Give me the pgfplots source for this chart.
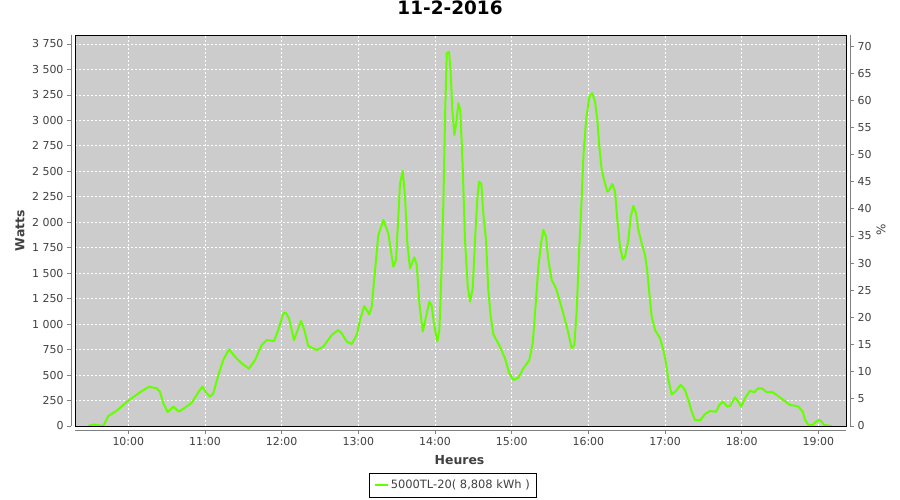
\documentclass[border=0pt]{standalone}
\usepackage{fontspec}
\setmainfont{DejaVu Sans}
\usepackage{pgfplots}
\pgfplotsset{compat=1.18}

\definecolor{plotbg}{RGB}{204,204,204}
\definecolor{serie}{RGB}{102,255,0}
\definecolor{axgray}{RGB}{128,128,128}
\definecolor{txt}{RGB}{64,64,64}

% Production du 11-2-2016, heures en decimal
\pgfplotstableread{
h      w
9.478  0
9.543  15
9.674  0
9.739  98
9.849  150
10.000 248
10.153 331
10.270 386
10.370 370
10.413 337
10.457 223
10.514 137
10.587 190
10.661 141
10.740 180
10.827 229
10.905 321
10.965 386
11.023 321
11.066 288
11.109 321
11.174 500
11.239 648
11.313 753
11.392 680
11.479 615
11.574 563
11.653 648
11.740 795
11.805 844
11.900 834
11.956 942
12.022 1106
12.053 1112
12.096 1057
12.161 844
12.217 959
12.253 1031
12.296 942
12.348 785
12.457 746
12.543 778
12.653 893
12.739 942
12.783 910
12.849 828
12.914 805
12.979 893
13.022 1040
13.078 1178
13.143 1096
13.175 1171
13.218 1531
13.261 1875
13.326 2022
13.391 1891
13.456 1564
13.492 1630
13.544 2382
13.579 2505
13.609 2251
13.639 1793
13.674 1548
13.730 1656
13.762 1581
13.796 1204
13.840 926
13.883 1073
13.926 1220
13.957 1180
13.987 1000
14.030 828
14.057 942
14.083 1482
14.109 2186
14.131 3036
14.153 3659
14.183 3674
14.205 3462
14.226 3102
14.252 2856
14.274 2955
14.304 3168
14.330 3102
14.361 2546
14.391 1826
14.427 1368
14.457 1220
14.492 1352
14.522 1826
14.552 2235
14.574 2398
14.604 2376
14.630 2088
14.665 1826
14.695 1335
14.727 1073
14.761 900
14.848 778
14.913 664
14.969 517
15.022 452
15.087 474
15.152 566
15.230 648
15.274 811
15.304 1106
15.348 1564
15.383 1793
15.413 1924
15.448 1858
15.478 1630
15.522 1433
15.578 1352
15.630 1220
15.696 1040
15.739 910
15.783 763
15.817 795
15.848 1139
15.878 1695
15.904 2088
15.935 2644
15.970 3004
16.013 3233
16.052 3266
16.087 3184
16.117 3004
16.143 2742
16.174 2513
16.205 2415
16.248 2300
16.274 2317
16.313 2376
16.348 2300
16.378 2022
16.413 1760
16.448 1636
16.478 1662
16.522 1826
16.552 2055
16.587 2160
16.622 2088
16.652 1924
16.696 1793
16.739 1679
16.769 1515
16.795 1302
16.826 1073
16.870 942
16.935 861
16.978 746
17.013 615
17.043 452
17.087 311
17.144 344
17.205 405
17.261 353
17.304 255
17.348 140
17.391 59
17.456 55
17.522 118
17.587 147
17.665 140
17.708 206
17.753 239
17.813 190
17.848 199
17.913 282
17.956 239
17.991 190
18.043 272
18.108 347
18.161 331
18.217 370
18.261 370
18.327 331
18.392 337
18.457 304
18.543 255
18.630 206
18.696 199
18.739 190
18.796 140
18.826 59
18.869 10
18.926 10
18.969 42
19.013 59
19.044 42
19.074 10
19.174 0
}\production

\pgfplotsset{
  commun/.style={
    scale only axis, width=771bp, height=391bp,
    xmin=9.305, xmax=19.36,
    /pgf/number format/assume math mode=true,
    tick label style={font=\fontsize{11}{13}\selectfont, text=txt},
    label style={font=\bfseries\fontsize{12.5}{15}\selectfont, text=txt},
  },
  reglette/.style={
    tick align=outside, major tick length=4bp,
    tick style={axgray, line width=0.75bp},
    axis line style={axgray, line width=0.75bp},
  },
}

\begin{document}
\begin{tikzpicture}
\path[use as bounding box] (0,0) rectangle (900bp,500bp);

% zone de trace
\begin{axis}[commun, at={(75bp,74bp)}, anchor=south west,
  ymin=0, ymax=3838,
  axis background/.style={fill=plotbg},
  axis line style={black, line width=0.75bp},
  xtick={10,...,19}, ytick={0,250,...,3750},
  xmajorticks=false, ymajorticks=false,
  grid=major,
  major grid style={white, line width=0.75bp, dash pattern=on 2bp off 2bp},
  title={11-2-2016},
  title style={at={(axis description cs:0.4864,1.0537)}, anchor=center,
    font=\bfseries\fontsize{18.5}{20}\selectfont, text=black},
  xlabel={Heures},
  xlabel style={at={(axis description cs:0.4987,-0.087)}, anchor=center},
  legend style={at={(axis description cs:0.490,-0.151)}, anchor=center,
    draw=black, line width=0.75bp, fill=white,
    font=\fontsize{11.5}{13}\selectfont, text=txt,
    inner xsep=4.5bp, inner ysep=5bp},
  legend image code/.code={\draw[#1] (0bp,0bp) -- (13bp,0bp);},
]
\addplot[serie, line width=2bp, line join=round] table[x=h, y=w] {\production};
\addlegendentry{5000TL-20( 8,808 kWh )}
\end{axis}

% axe des watts
\begin{axis}[commun, reglette, at={(71bp,74bp)}, anchor=south west,
  ymin=0, ymax=3838,
  axis y line*=left, axis x line=none, xtick=\empty,
  ytick={0,250,...,3750},
  yticklabels={0,250,500,750,1 000,1 250,1 500,1 750,2 000,2 250,2 500,2 750,3 000,3 250,3 500,3 750},
  ylabel={Watts},
  ylabel style={at={(axis description cs:-0.0661,0.5)}, anchor=center},
]
\end{axis}

% axe des pourcentages
\begin{axis}[commun, reglette, at={(79bp,74bp)}, anchor=south west,
  ymin=0, ymax=72.03,
  axis y line*=right, axis x line=none, xtick=\empty,
  ytick={0,5,...,70},
  ylabel={\%},
  ylabel style={at={(axis description cs:1.0402,0.501)}, anchor=center,
    font=\fontsize{12}{14}\selectfont},
]
\end{axis}

% axe des heures
\begin{axis}[commun, reglette, at={(75bp,70bp)}, anchor=south west,
  ymin=0, ymax=3838,
  axis x line*=bottom, axis y line=none, ytick=\empty,
  xtick={10,...,19},
  xticklabels={10:00,11:00,12:00,13:00,14:00,15:00,16:00,17:00,18:00,19:00},
]
\end{axis}
\end{tikzpicture}
\end{document}
